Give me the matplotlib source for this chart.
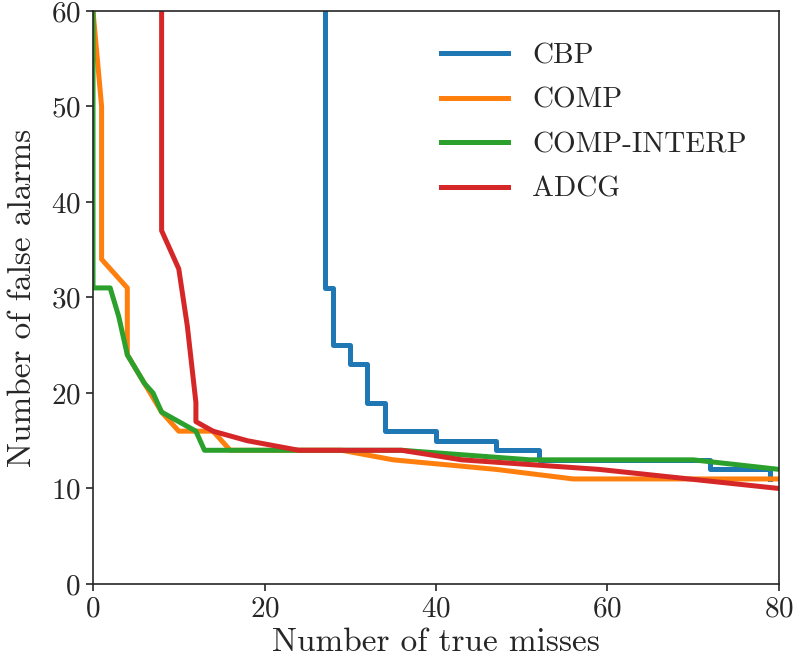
import matplotlib
matplotlib.use("Agg")
import matplotlib.pyplot as plt

plt.rcParams["font.family"] = "serif"
plt.rcParams["font.serif"] = ["cmr10", "DejaVu Serif"]
plt.rcParams["axes.formatter.use_mathtext"] = True
plt.rcParams["mathtext.fontset"] = "cm"

# curvas: falsos alarmes x perdas verdadeiras
cbp_x = [27, 27, 28, 30, 32, 34, 40, 47, 52, 72, 79]
cbp_y = [70, 31, 25, 23, 19, 16, 15, 14, 13, 12, 11]

comp_x = [0, 1, 1, 4, 4, 6, 8, 10, 14, 16, 29, 35, 47, 56, 80]
comp_y = [60, 50, 34, 31, 24, 21, 18, 16, 16, 14, 14, 13, 12, 11, 11]

interp_x = [0, 0, 2, 3, 4, 6, 7, 8, 12, 13, 36, 51, 70, 80]
interp_y = [70, 31, 31, 28, 24, 21, 20, 18, 16, 14, 14, 13, 13, 12]

adcg_x = [8, 8, 10, 11, 12, 12, 14, 18, 24, 36, 43, 59, 80]
adcg_y = [70, 37, 33, 27, 19, 17, 16, 15, 14, 14, 13, 12, 10]

cores = ["#1f77b4", "#ff7f0e", "#2ca02c", "#d62728"]
texto = "#262626"

fig = plt.figure(figsize=(7.93, 6.64), dpi=100)
ax = fig.add_axes([0.1173, 0.1205, 0.8650, 0.8630])

lw = 3.6
ax.plot(cbp_x, cbp_y, drawstyle="steps-post", color=cores[0], lw=lw, label="CBP")
ax.plot(comp_x, comp_y, color=cores[1], lw=lw, label="COMP")
ax.plot(interp_x, interp_y, color=cores[2], lw=lw, label="COMP-INTERP")
ax.plot(adcg_x, adcg_y, color=cores[3], lw=lw, label="ADCG")

ax.set_xlim(0, 80)
ax.set_ylim(0, 60)
ax.set_xticks([0, 20, 40, 60, 80])
ax.set_yticks([0, 10, 20, 30, 40, 50, 60])

for s in ax.spines.values():
    s.set_color(texto)
    s.set_linewidth(1.2)
ax.tick_params(labelsize=21, colors=texto, length=5, width=1.2, pad=4)

ax.set_xlabel("Number of true misses", fontsize=24, color=texto, labelpad=4)
ax.set_ylabel("Number of false alarms", fontsize=24, color=texto, labelpad=10)

leg = ax.legend(loc="upper right", frameon=False, fontsize=21,
                handlelength=2.3, handletextpad=0.85, labelspacing=0.62,
                borderaxespad=0.7)
for t in leg.get_texts():
    t.set_color(texto)

fig.savefig("out.png", dpi=100)
